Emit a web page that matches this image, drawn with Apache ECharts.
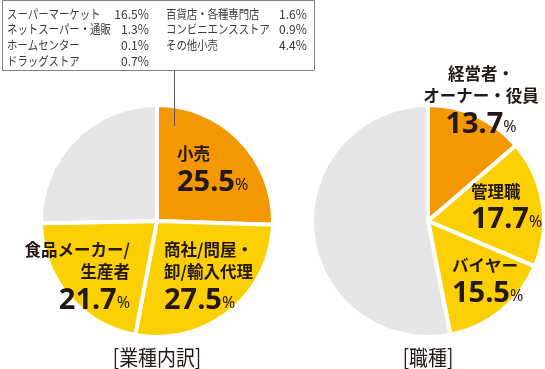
<!DOCTYPE html>
<html><head><meta charset="utf-8">
<script src="https://cdn.jsdelivr.net/npm/echarts@6/dist/echarts.min.js"></script>
<style>html,body{margin:0;padding:0;background:#fff}#c{width:545px;height:369px}</style>
</head><body><div id="c"></div>
<script>
// ---- data ----
const industryNames = ['小売', '商社/問屋・\n卸/輸入代理', '食品メーカー/\n生産者', 'その他'];
const industryValues = [25.5, 27.5, 21.7, 25.3];
const jobNames = ['経営者・\nオーナー・役員', '管理職', 'バイヤー', 'その他'];
const jobValues = [13.7, 17.7, 15.5, 53.1];
const retailNamesA = ['スーパーマーケット', 'ネットスーパー・通販', 'ホームセンター', 'ドラッグストア'];
const retailValuesA = [16.5, 1.3, 0.1, 0.7];
const retailNamesB = ['百貨店・各種専門店', 'コンビニエンスストア', 'その他小売'];
const retailValuesB = [1.6, 0.9, 4.4];
const chartTitles = ['[業種内訳]', '[職種]'];

// ---- style / layout ----
const ORANGE = '#F39800', YELLOW = '#FCD000', GRAY = '#E6E6E6';
const sliceColors = [ORANGE, YELLOW, YELLOW, GRAY];
const TXT = '#231815', BOXTXT = '#3e3a39';
const JP = '"Noto Sans CJK JP", sans-serif';
const NUM = '"Noto Sans", sans-serif';
const industryLabelPos = [
  {align: 'left', x: 177, top: 145.5},
  {align: 'left', x: 164, top: 241},
  {align: 'right', x: 130, top: 241},
  null
];
const jobLabelPos = [
  {align: 'center', x: 481, top: 65},
  {align: 'left', x: 471, top: 183},
  {align: 'left', x: 452, top: 257},
  null
];

const RICH = {};
['left', 'right', 'center'].forEach(function (al) {
  const s = al[0];
  RICH['n' + s] = {fontFamily: JP, fontWeight: 'bold', fontSize: 16.5, lineHeight: 22.5, color: TXT, align: al};
  RICH['v' + s] = {fontFamily: NUM, fontWeight: 'bold', fontSize: 29, lineHeight: 32, color: TXT, align: al, verticalAlign: 'bottom'};
  RICH['p' + s] = {fontFamily: NUM, fontWeight: 'normal', fontSize: 16, lineHeight: 32, color: TXT, align: al, verticalAlign: 'bottom', padding: [0, 0, 4, 0]};
});

function makeFormatter(pos) {
  return function (p) {
    const L = pos[p.dataIndex];
    if (!L) return '';
    const s = L.align[0];
    return '{n' + s + '|' + p.name + '}\n{v' + s + '|' + p.value.toFixed(1) + '}{p' + s + '|%}';
  };
}
function makeLayout(pos) {
  return function (p) {
    const L = pos[p.dataIndex];
    if (!L) return {};
    const r = p.labelRect;
    const ref = L.align === 'left' ? r.x : (L.align === 'right' ? r.x + r.width : r.x + r.width / 2);
    return {dx: L.x - ref, dy: L.top - r.y};
  };
}
function makeData(names, values, pos) {
  return values.map(function (v, i) {
    return {name: names[i], value: v, itemStyle: {color: sliceColors[i]}, label: {show: !!pos[i]}};
  });
}
function pieSeries(center, names, values, pos) {
  return {
    type: 'pie', center: center, radius: 116, startAngle: 90, clockwise: true,
    silent: true, animation: false,
    itemStyle: {borderColor: '#fff', borderWidth: 4},
    label: {show: true, position: 'inside', formatter: makeFormatter(pos), rich: RICH},
    labelLine: {show: false},
    labelLayout: makeLayout(pos),
    data: makeData(names, values, pos)
  };
}

const graphics = [
  {type: 'rect', z: 100, shape: {x: 2.5, y: 0.5, width: 312, height: 70}, style: {fill: '#fff', stroke: '#808080', lineWidth: 1}},
  {type: 'line', z: 100, shape: {x1: 174.5, y1: 71, x2: 174.5, y2: 126}, style: {stroke: '#595757', lineWidth: 1}}
];
function boxText(text, x, y, align, sx) {
  graphics.push({type: 'text', z: 101, x: x, y: y, scaleX: sx,
    style: {text: text, fontFamily: JP, fontSize: 12.5, fill: BOXTXT, align: align, verticalAlign: 'middle'}});
}
retailNamesA.forEach(function (t, i) {
  const y = 14 + 15.6 * i;
  boxText(t, 7, y, 'left', 0.83);
  boxText(retailValuesA[i].toFixed(1) + '%', 149, y, 'right', 0.97);
});
retailNamesB.forEach(function (t, i) {
  const y = 14 + 15.6 * i;
  boxText(t, 166, y, 'left', 0.83);
  boxText(retailValuesB[i].toFixed(1) + '%', 307, y, 'right', 0.97);
});
[[157, 357], [428, 357]].forEach(function (c, i) {
  graphics.push({type: 'text', z: 101, x: c[0], y: c[1], scaleX: 0.9,
    style: {text: chartTitles[i], fontFamily: JP, fontSize: 21, fill: TXT, align: 'center', verticalAlign: 'middle'}});
});

const chart = echarts.init(document.getElementById('c'), null, {renderer: 'canvas'});
chart.setOption({
  animation: false,
  backgroundColor: '#fff',
  series: [
    pieSeries([157, 221], industryNames, industryValues, industryLabelPos),
    pieSeries([428, 221], jobNames, jobValues, jobLabelPos)
  ],
  graphic: graphics
});
</script>
</body></html>
